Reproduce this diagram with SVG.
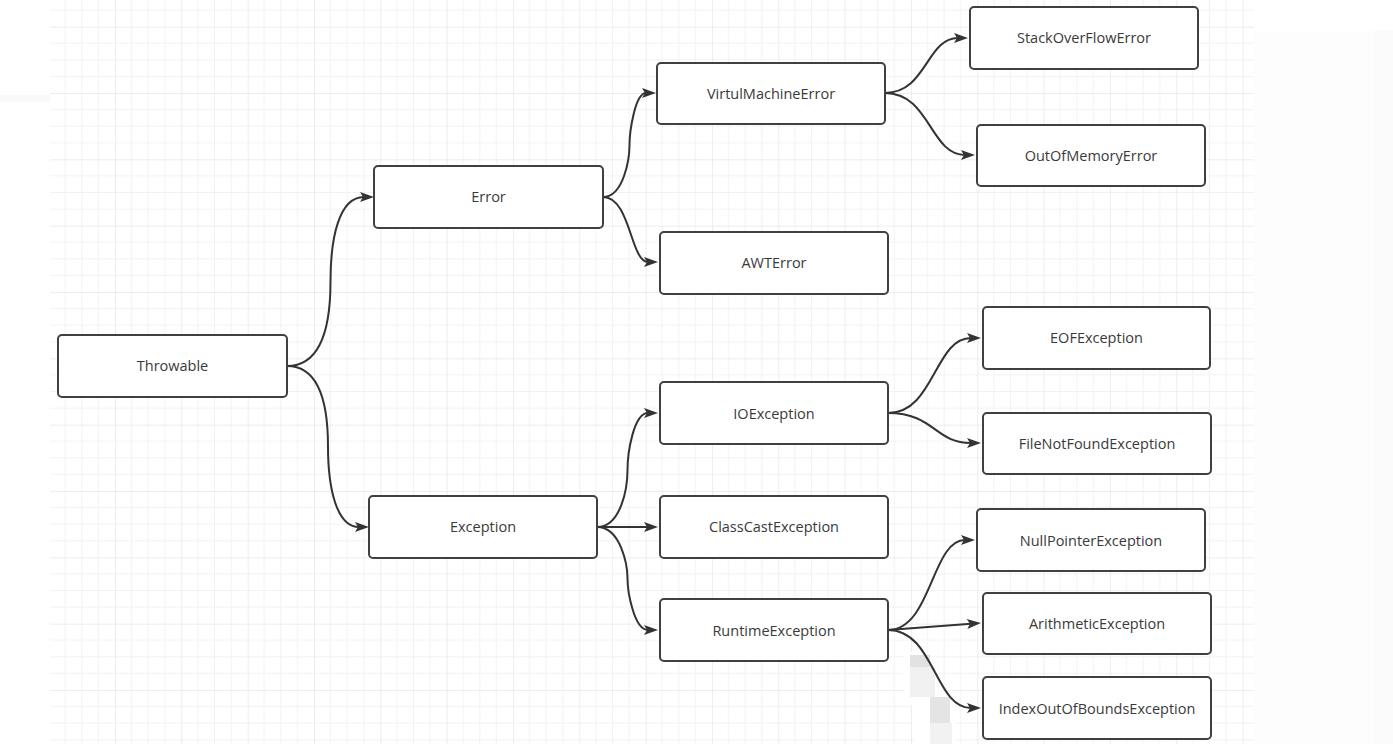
<svg xmlns="http://www.w3.org/2000/svg" width="1393" height="744" viewBox="0 0 1393 744">
  <defs>
    <pattern id="grid" patternUnits="userSpaceOnUse" x="48.67" y="26.67" width="66.33" height="66.33">
      <rect x="16.08" y="0" width="1" height="66.33" fill="#f2f2f2"/>
      <rect x="32.67" y="0" width="1" height="66.33" fill="#f2f2f2"/>
      <rect x="49.25" y="0" width="1" height="66.33" fill="#f2f2f2"/>
      <rect x="0" y="16.08" width="66.33" height="1" fill="#f2f2f2"/>
      <rect x="0" y="32.67" width="66.33" height="1" fill="#f2f2f2"/>
      <rect x="0" y="49.25" width="66.33" height="1" fill="#f2f2f2"/>
      <rect x="-0.5" y="0" width="1.2" height="66.33" fill="#e6e6e6"/>
      <rect x="0" y="-0.5" width="66.33" height="1.2" fill="#e6e6e6"/>
    </pattern>
    <marker id="arrow" markerUnits="userSpaceOnUse" markerWidth="16" markerHeight="12" refX="4" refY="5" orient="auto" overflow="visible">
      <path d="M0,0 L14,5 L0,10 L3,5 z" fill="#333333"/>
    </marker>
    <style>
      .node rect { fill: #ffffff; stroke: #404040; stroke-width: 2; }
      .node text { font-family: "Open Sans", "Liberation Sans", sans-serif; font-size: 14.5px; fill: #3a3a3a; text-anchor: middle; }
      .edge { fill: none; stroke: #333333; stroke-width: 2; marker-end: url(#arrow); }
    </style>
  </defs>

  <rect x="0" y="0" width="1393" height="744" fill="#ffffff"/>
  <rect x="0" y="95" width="50" height="7" fill="#f9f9f9"/>
  <rect x="1254" y="31" width="119" height="713" fill="#fdfdfd"/>
  <rect x="1373" y="31" width="20" height="713" fill="#fbfbfb"/>
  <rect x="50" y="0" width="1204" height="744" fill="url(#grid)"/>

  <g id="artifact">
    <path d="M903,662 Q904,652 912,652 L932,652 L935,686 Q955,696 955,716 L955,744 L915,744 L912,706 Q901,692 903,662 z" fill="#ffffff"/>
    <rect x="910" y="655" width="20" height="12" fill="#e2e2e2"/>
    <rect x="910" y="667" width="25" height="30" fill="#f1f1f1"/>
    <rect x="930" y="697" width="20" height="26" fill="#e4e4e4"/>
    <rect x="930" y="723" width="22" height="21" fill="#f2f2f2"/>
  </g>

  <g id="connectors">
    <path class="edge" d="M287,366 C321.8,366 330.5,326 330.5,281.5 S339.2,197 364,197"/>
    <path class="edge" d="M287,366 C319.8,366 328,406 328,446.5 S336.2,527 359,527"/>
    <path class="edge" d="M603,197 C624.2,197 629.5,157 629.5,145 S634.8,93 646,93"/>
    <path class="edge" d="M603,197 C630.5,197 630.5,262 648,262"/>
    <path class="edge" d="M885,93 C926.5,93 926.5,38 958,38"/>
    <path class="edge" d="M885,93 C930,93 930,155 965,155"/>
    <path class="edge" d="M597,527 C621.4,527 627.5,487 627.5,470 S633.6,413 648,413"/>
    <path class="edge" d="M597,527 L648,527"/>
    <path class="edge" d="M597,527 C621.4,527 627.5,567 627.5,578.5 S633.6,630 648,630"/>
    <path class="edge" d="M888,413 C934.5,413 934.5,338 971,338"/>
    <path class="edge" d="M888,413 C934.5,413 934.5,443 971,443"/>
    <path class="edge" d="M888,630 C931.5,630 931.5,540 965,540"/>
    <path class="edge" d="M888,630 L971,623.8"/>
    <path class="edge" d="M888,630 C934.5,630 934.5,708 971,708"/>
  </g>

  <g id="node-throwable" class="node"><rect x="58" y="335" width="229" height="62" rx="4"/><text x="172.5" y="371">Throwable</text></g>
  <g id="node-error" class="node"><rect x="374" y="166" width="229" height="62" rx="4"/><text x="488.5" y="202">Error</text></g>
  <g id="node-exception" class="node"><rect x="369" y="496" width="228" height="62" rx="4"/><text x="483" y="532">Exception</text></g>
  <g id="node-vme" class="node"><rect x="657" y="63" width="228" height="61" rx="4"/><text x="771" y="99">VirtulMachineError</text></g>
  <g id="node-awt" class="node"><rect x="660" y="232" width="228" height="62" rx="4"/><text x="774" y="268">AWTError</text></g>
  <g id="node-io" class="node"><rect x="660" y="382" width="228" height="62" rx="4"/><text x="774" y="419">IOException</text></g>
  <g id="node-classcast" class="node"><rect x="660" y="496" width="228" height="62" rx="4"/><text x="774" y="532">ClassCastException</text></g>
  <g id="node-runtime" class="node"><rect x="660" y="599" width="228" height="62" rx="4"/><text x="774" y="636">RuntimeException</text></g>
  <g id="node-sof" class="node"><rect x="970" y="7" width="228" height="62" rx="4"/><text x="1084" y="43">StackOverFlowError</text></g>
  <g id="node-oom" class="node"><rect x="977" y="125" width="228" height="61" rx="4"/><text x="1091" y="161">OutOfMemoryError</text></g>
  <g id="node-eof" class="node"><rect x="983" y="307" width="227" height="62" rx="4"/><text x="1096.5" y="343">EOFException</text></g>
  <g id="node-fnf" class="node"><rect x="983" y="413" width="228" height="61" rx="4"/><text x="1097" y="449">FileNotFoundException</text></g>
  <g id="node-npe" class="node"><rect x="977" y="509" width="228" height="62" rx="4"/><text x="1091" y="546">NullPointerException</text></g>
  <g id="node-arith" class="node"><rect x="983" y="593" width="228" height="61" rx="4"/><text x="1097" y="629">ArithmeticException</text></g>
  <g id="node-ioob" class="node"><rect x="983" y="677" width="228" height="62" rx="4"/><text x="1097" y="714">IndexOutOfBoundsException</text></g>
</svg>
